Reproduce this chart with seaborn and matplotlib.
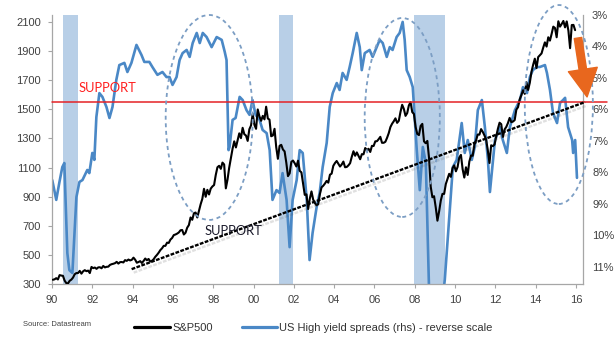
import numpy as np
import pandas as pd
import matplotlib
matplotlib.use("Agg")
import matplotlib.pyplot as plt
import matplotlib.patheffects as pe
from matplotlib.patches import Ellipse
from matplotlib.lines import Line2D
import seaborn as sns

sns.set_theme(style="ticks")
plt.rcParams["font.family"] = ["Liberation Sans", "DejaVu Sans"]

# S&P500 month-end level, Jan 1990 .. Dec 2015
sp500 = [
    329, 332, 340, 331, 361, 358, 356, 323, 306, 304, 322, 330,        # 1990
    344, 367, 375, 375, 390, 371, 387, 395, 388, 392, 375, 417,        # 1991
    409, 413, 404, 414, 415, 408, 424, 414, 418, 419, 431, 436,        # 1992
    439, 443, 452, 440, 450, 451, 448, 464, 459, 468, 462, 466,        # 1993
    481, 467, 446, 451, 457, 444, 458, 475, 463, 472, 454, 459,        # 1994
    470, 487, 500, 515, 533, 545, 562, 562, 584, 582, 605, 616,        # 1995
    636, 640, 646, 654, 669, 671, 640, 652, 687, 705, 757, 741,        # 1996
    786, 791, 757, 801, 848, 885, 954, 899, 947, 915, 955, 970,        # 1997
    980, 1049, 1102, 1112, 1091, 1134, 1121, 957, 1017, 1099, 1164, 1229,   # 1998
    1280, 1238, 1286, 1335, 1302, 1373, 1329, 1320, 1283, 1363, 1389, 1469,  # 1999
    1394, 1366, 1499, 1452, 1421, 1455, 1431, 1518, 1437, 1429, 1315, 1320,  # 2000
    1366, 1240, 1160, 1249, 1256, 1224, 1211, 1134, 1041, 1060, 1139, 1148,  # 2001
    1130, 1107, 1147, 1077, 1067, 990, 912, 916, 815, 886, 936, 880,         # 2002
    856, 841, 848, 917, 964, 975, 990, 1008, 996, 1051, 1058, 1112,          # 2003
    1131, 1145, 1126, 1107, 1121, 1141, 1102, 1104, 1115, 1130, 1174, 1212,  # 2004
    1181, 1204, 1181, 1157, 1192, 1191, 1234, 1220, 1229, 1207, 1249, 1248,  # 2005
    1280, 1281, 1295, 1311, 1270, 1270, 1277, 1304, 1336, 1378, 1401, 1418,  # 2006
    1438, 1407, 1421, 1482, 1531, 1503, 1455, 1474, 1527, 1549, 1481, 1468,  # 2007
    1379, 1331, 1323, 1386, 1400, 1280, 1267, 1283, 1166, 969, 896, 903,     # 2008
    826, 735, 798, 873, 919, 919, 987, 1021, 1057, 1036, 1096, 1115,         # 2009
    1074, 1104, 1169, 1187, 1089, 1031, 1102, 1049, 1141, 1183, 1181, 1258,  # 2010
    1286, 1327, 1326, 1364, 1345, 1321, 1292, 1219, 1131, 1253, 1247, 1258,  # 2011
    1312, 1366, 1408, 1398, 1310, 1362, 1379, 1406, 1441, 1412, 1416, 1426,  # 2012
    1498, 1515, 1569, 1598, 1631, 1606, 1686, 1633, 1682, 1757, 1806, 1848,  # 2013
    1783, 1859, 1872, 1884, 1924, 1960, 1931, 1995, 1972, 2018, 2068, 2059,  # 2014
    1995, 2105, 2068, 2086, 2107, 2063, 2104, 2040, 1920, 2079, 2080, 2044,  # 2015
]

# US high-yield spread (%), dated in decimal years
hy_year = [
    1990.01, 1990.21, 1990.36, 1990.51, 1990.61, 1990.76, 1990.86, 1991.01, 1991.21, 1991.36,
    1991.51, 1991.75, 1991.85, 1992.00, 1992.10, 1992.20, 1992.35, 1992.50, 1992.70, 1992.85,
    1993.00, 1993.19, 1993.34, 1993.59, 1993.74, 1993.94, 1994.19, 1994.44, 1994.58, 1994.83,
    1994.98, 1995.23, 1995.48, 1995.68, 1995.83, 1995.98, 1996.18, 1996.33, 1996.48, 1996.68,
    1996.83, 1996.98, 1997.18, 1997.33, 1997.48, 1997.67, 1997.92, 1998.17, 1998.42, 1998.57,
    1998.66, 1998.76, 1998.81, 1998.96, 1999.11, 1999.31, 1999.46, 1999.65, 1999.80, 1999.95,
    2000.10, 2000.30, 2000.45, 2000.65, 2000.80, 2000.94, 2001.14, 2001.29, 2001.44, 2001.64,
    2001.79, 2001.94, 2002.14, 2002.29, 2002.44, 2002.64, 2002.78, 2002.93, 2003.13, 2003.28,
    2003.43, 2003.63, 2003.78, 2003.93, 2004.13, 2004.27, 2004.42, 2004.62, 2004.77, 2004.92,
    2005.12, 2005.27, 2005.37, 2005.52, 2005.76, 2005.91, 2006.11, 2006.26, 2006.41, 2006.61,
    2006.76, 2006.90, 2007.10, 2007.25, 2007.40, 2007.50, 2007.60, 2007.75, 2007.90, 2008.10,
    2008.25, 2008.40, 2008.55, 2008.74, 2008.85, 2009.00, 2009.20, 2009.38, 2009.49, 2009.74,
    2009.89, 2010.08, 2010.33, 2010.48, 2010.63, 2010.83, 2010.98, 2011.13, 2011.33, 2011.48,
    2011.63, 2011.73, 2011.98, 2012.22, 2012.37, 2012.57, 2012.72, 2012.97, 2013.22, 2013.37,
    2013.57, 2013.71, 2013.86, 2014.06, 2014.21, 2014.46, 2014.56, 2014.71, 2014.86, 2015.06,
    2015.21, 2015.36, 2015.46, 2015.61, 2015.81, 2015.86, 2015.96, 2016.05,
]
hy_spread = [
    8.24, 8.87, 8.33, 7.83, 7.70, 10.56, 11.10, 11.19, 8.78, 8.30,
    8.24, 7.92, 8.02, 7.38, 7.60, 6.24, 5.48, 5.60, 5.92, 6.27,
    5.92, 5.06, 4.59, 4.52, 4.81, 4.52, 3.95, 4.27, 4.49, 4.49,
    4.65, 4.90, 4.81, 4.97, 4.97, 5.22, 4.97, 4.43, 4.21, 4.11,
    4.33, 3.89, 3.57, 3.89, 3.57, 3.70, 4.02, 3.70, 3.79, 4.17,
    4.43, 7.29, 7.19, 6.33, 6.27, 5.60, 5.70, 6.02, 6.17, 5.70,
    6.17, 6.33, 6.65, 6.75, 7.29, 8.87, 8.56, 8.65, 8.02, 8.87,
    10.37, 8.87, 8.24, 7.29, 7.38, 8.87, 10.78, 9.92, 9.10, 8.65,
    7.83, 7.06, 5.92, 5.48, 5.16, 5.38, 4.84, 5.06, 4.65, 4.21,
    3.57, 4.02, 4.75, 4.21, 4.11, 4.33, 4.02, 3.79, 3.89, 4.33,
    4.02, 4.11, 3.70, 3.57, 3.22, 3.79, 4.75, 4.97, 5.29, 7.29,
    8.56, 7.19, 7.70, 12.50, 16.00, 19.50, 16.50, 12.00, 11.41, 9.19,
    7.83, 7.60, 6.43, 7.38, 6.97, 7.60, 7.19, 6.02, 5.70, 6.56,
    7.60, 8.62, 6.97, 6.56, 6.97, 7.38, 6.56, 6.02, 5.70, 5.29,
    5.48, 4.97, 4.75, 4.65, 4.65, 4.59, 4.84, 5.38, 6.11, 6.43,
    5.79, 5.70, 5.63, 6.56, 6.97, 7.38, 6.97, 8.17,
]

# US recessions (decimal years)
recessions = [(1990.55, 1991.30), (2001.25, 2001.95), (2007.95, 2009.50)]

left_ticks = [300, 500, 700, 900, 1100, 1300, 1500, 1700, 1900, 2100]
right_ticks = [3, 4, 5, 6, 7, 8, 9, 10, 11]
right_labels = ["3%", "4%", "5%", "6%", "7%", "8%", "9%", "10%", "11%"]
x_ticks = [1990, 1992, 1994, 1996, 1998, 2000, 2002, 2004, 2006, 2008, 2010, 2012, 2014, 2016]
x_labels = ["90", "92", "94", "96", "98", "00", "02", "04", "06", "08", "10", "12", "14", "16"]

support_level = 1550
trend_start = (1993.95, 402)
trend_end = (2016.45, 1550)

BLUE = "#4a88c6"
SHADE = "#b8cfe7"
GREY = "#a6a6a6"
TXT = "#404040"

sp_df = pd.DataFrame({"year": 1990 + (np.arange(len(sp500)) + 0.5) / 12, "level": sp500})
hy_df = pd.DataFrame({"year": hy_year, "spread": hy_spread})

fig = plt.figure(figsize=(6.15, 3.37), dpi=100)
ax = fig.add_axes([0.0846, 0.1573, 0.8634, 0.7982])
ax2 = ax.twinx()

# spreads on the right axis, reversed
for a, b in recessions:
    ax2.axvspan(a, b, color=SHADE, lw=0, zorder=0)
sns.lineplot(data=hy_df, x="year", y="spread", ax=ax2, color=BLUE, lw=1.9,
             legend=False, zorder=2)
ax2.set_ylim(11.54, 3.0)
ax2.set_yticks(right_ticks)
ax2.set_yticklabels(right_labels)
ax2.set_ylabel("")
ax2.tick_params(axis="y", length=0, pad=6.5, labelsize=8, labelcolor=TXT)
for s in ["left", "top", "bottom"]:
    ax2.spines[s].set_visible(False)
ax2.spines["right"].set_color(GREY)
ax2.spines["right"].set_linewidth(0.9)

# S&P500 on the left axis, drawn above the spreads
sns.lineplot(data=sp_df, x="year", y="level", ax=ax, color="black", lw=1.5,
             legend=False, zorder=3)
ax.set_zorder(ax2.get_zorder() + 1)
ax.patch.set_visible(False)
ax.set_xlim(1990, 2016.35)
ax.set_ylim(300, 2148)
ax.set_yticks(left_ticks)
ax.set_xticks(x_ticks)
ax.set_xticklabels(x_labels)
ax.set_xlabel("")
ax.set_ylabel("")
ax.tick_params(axis="both", length=3, width=0.8, color=GREY, labelsize=8,
               labelcolor=TXT)
ax.tick_params(axis="y", pad=5)
ax.tick_params(axis="x", pad=5)
ax.spines["top"].set_visible(False)
ax.spines["right"].set_visible(False)
for s in ["left", "bottom"]:
    ax.spines[s].set_color(GREY)
    ax.spines[s].set_linewidth(0.9)

# horizontal support level
ax.axhline(support_level, xmin=0, xmax=1.045, color="#e42226", lw=1.1,
           clip_on=False, zorder=4)
ax.text(1991.3, 1647, "SUPPORT", color="#ff1f1f", fontsize=9.3,
        family=["Lato", "DejaVu Sans"], va="center", ha="left")

# rising trend support with a soft shadow
ax.plot([trend_start[0], trend_end[0]], [trend_start[1], trend_end[1]],
        color="black", lw=1.7, ls=(0, (1.6, 0.6)), clip_on=False, zorder=5,
        path_effects=[pe.SimpleLineShadow(offset=(1.5, -2.5), alpha=0.18,
                                          shadow_color="#555555"),
                      pe.Normal()])
ax.text(1997.57, 664, "SUPPORT", color="#1b1b2c", fontsize=9.3,
        family=["Lato", "DejaVu Sans"], va="center", ha="left", zorder=6)

# dashed rings around the spread peaks
for cx, cy, w, h in [(1997.8, 1444, 4.32, 1408),
                     (2007.38, 1444, 3.73, 1367),
                     (2015.15, 1533, 3.38, 1367)]:
    ax.add_patch(Ellipse((cx, cy), w, h, fill=False, ec="#7c9ec4", lw=1.3,
                         ls=(0, (2.2, 2.0)), clip_on=False, zorder=6))

# orange arrow pointing to the support level
ax.annotate("", xy=(2016.55, 1585), xytext=(2016.1, 1990),
            arrowprops=dict(arrowstyle="simple,head_length=1.0,head_width=1.05,tail_width=0.27",
                            color="#e8671e", shrinkA=0, shrinkB=0),
            annotation_clip=False, zorder=7, fontsize=20)

handles = [Line2D([], [], color="black", lw=2.3), Line2D([], [], color=BLUE, lw=2.3)]
fig.legend(handles, ["S&P500", "US High yield spreads (rhs) - reverse scale"],
           loc="center", bbox_to_anchor=(0.51, 0.026), ncol=2, frameon=False,
           fontsize=8, handlelength=3.2, handletextpad=0.2, columnspacing=2.6,
           labelcolor="#333333")
fig.text(0.037, 0.036, "Source: Datastream", fontsize=5.5, color="#444444",
         va="center", ha="left")

fig.savefig("out.png", dpi=100)
